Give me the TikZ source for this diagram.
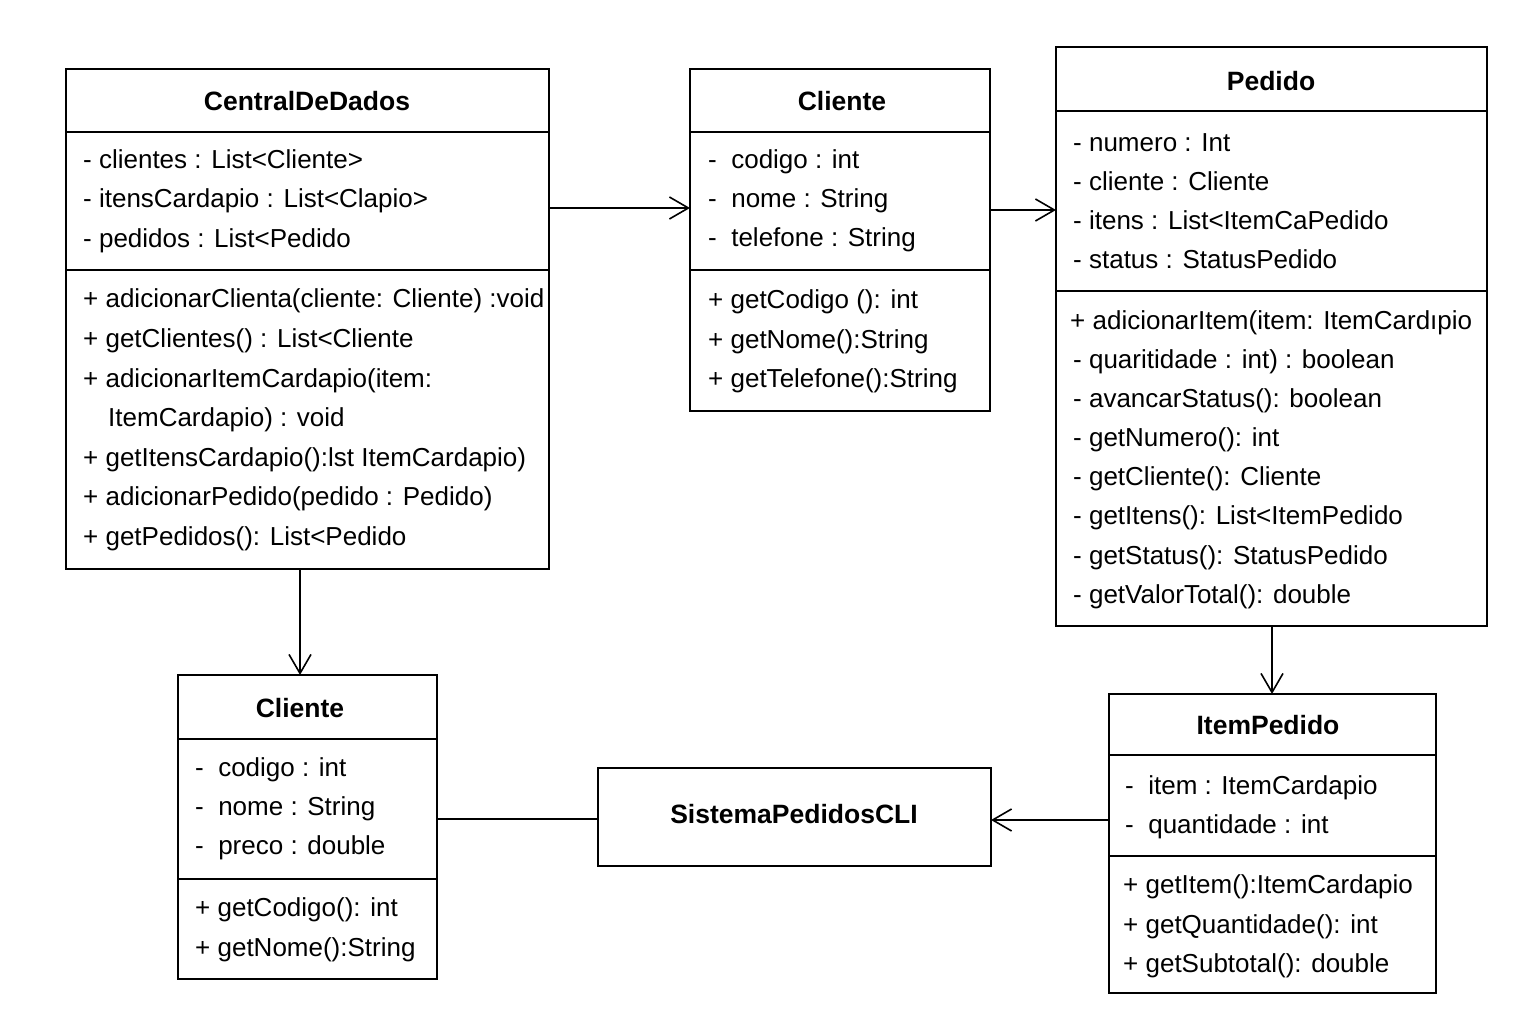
\documentclass[tikz,border=0pt]{standalone}
\usepackage{fontspec}
\setmainfont{Liberation Sans}
\usetikzlibrary{arrows.meta}
\tikzset{
  classbox/.style={draw, line width=1.6pt, rectangle, inner sep=0pt, outer sep=0pt, anchor=north west},
  ctitle/.style={font=\bfseries\fontsize{26.5}{30}\selectfont, inner sep=0pt},
  txt/.style={font=\fontsize{26}{30}\selectfont, anchor=west, inner sep=0pt, text height=0.75em, text depth=0.25em, yshift=-6pt},
  sepline/.style={line width=1.6pt},
  conn/.style={line width=1.6pt},
  arr/.style={conn, -{Straight Barb[length=19pt,width=22pt,line width=1.6pt]}}
}
\begin{document}
\begin{tikzpicture}[x=1pt,y=-1pt]
\useasboundingbox[fill=white] (0,0) rectangle (1536,1024);

% ---------- CentralDeDados ----------
\node[classbox, minimum width=483pt, minimum height=500pt] (cdd) at (66,69) {};
\node[ctitle] (cddt) at (307,101) {CentralDeDados};
\draw[sepline] (66,132) -- (549,132);
\draw[sepline] (66,270) -- (549,270);
\node[txt] (cdda1) at (83,160) {- clientes : List<Cliente>};
\node[txt] (cdda2) at (83,199) {- itensCardapio : List<Clapio>};
\node[txt] (cdda3) at (83,239) {- pedidos : List<Pedido};
\node[txt] (cddm1) at (83,299) {+ adicionarClienta(cliente: Cliente) :void};
\node[txt] (cddm2) at (83,339) {+ getClientes() : List<Cliente};
\node[txt] (cddm3) at (83,379) {+ adicionarItemCardapio(item:};
\node[txt] (cddm4) at (108,418) {ItemCardapio) : void};
\node[txt] (cddm5) at (83,458) {+ getItensCardapio():lst ItemCardapio)};
\node[txt] (cddm6) at (83,497) {+ adicionarPedido(pedido : Pedido)};
\node[txt] (cddm7) at (83,537) {+ getPedidos(): List<Pedido};

% ---------- Cliente (top) ----------
\node[classbox, minimum width=300pt, minimum height=342pt] (cli1) at (690,69) {};
\node[ctitle] (cli1t) at (842,101) {Cliente};
\draw[sepline] (690,132) -- (990,132);
\draw[sepline] (690,270) -- (990,270);
\node[txt] (cli1a1) at (708,160) {-~~codigo : int};
\node[txt] (cli1a2) at (708,199) {-~~nome : String};
\node[txt] (cli1a3) at (708,238) {-~~telefone : String};
\node[txt] (cli1m1) at (708,300) {+ getCodigo (): int};
\node[txt] (cli1m2) at (708,340) {+ getNome():String};
\node[txt] (cli1m3) at (708,379) {+ getTelefone():String};

% ---------- Pedido ----------
\node[classbox, minimum width=431pt, minimum height=579pt] (ped) at (1056,47) {};
\node[ctitle] (pedt) at (1271,81) {Pedido};
\draw[sepline] (1056,111) -- (1487,111);
\draw[sepline] (1056,291) -- (1487,291);
\node[txt] (peda1) at (1073,143) {- numero : Int};
\node[txt] (peda2) at (1073,182) {- cliente : Cliente};
\node[txt] (peda3) at (1073,221) {- itens : List<ItemCaPedido};
\node[txt] (peda4) at (1073,260) {- status : StatusPedido};
\node[txt] (pedm1) at (1070,321) {+ adicionarItem(item: ItemCardıpio};
\node[txt] (pedm2) at (1073,360) {- quaritidade : int) : boolean};
\node[txt] (pedm3) at (1073,399) {- avancarStatus(): boolean};
\node[txt] (pedm4) at (1073,438) {- getNumero(): int};
\node[txt] (pedm5) at (1073,477) {- getCliente(): Cliente};
\node[txt] (pedm6) at (1073,516) {- getItens(): List<ItemPedido};
\node[txt] (pedm7) at (1073,556) {- getStatus(): StatusPedido};
\node[txt] (pedm8) at (1073,595) {- getValorTotal(): double};

% ---------- Cliente (bottom) ----------
\node[classbox, minimum width=259pt, minimum height=304pt] (cli2) at (178,675) {};
\node[ctitle] (cli2t) at (300,708) {Cliente};
\draw[sepline] (178,739) -- (437,739);
\draw[sepline] (178,879) -- (437,879);
\node[txt] (cli2a1) at (195,768) {-~~codigo : int};
\node[txt] (cli2a2) at (195,807) {-~~nome : String};
\node[txt] (cli2a3) at (195,846) {-~~preco : double};
\node[txt] (cli2m1) at (195,908) {+ getCodigo(): int};
\node[txt] (cli2m2) at (195,948) {+ getNome():String};

% ---------- SistemaPedidosCLI ----------
\node[classbox, minimum width=393pt, minimum height=98pt] (spc) at (598,768) {};
\node[ctitle] (spct) at (794,814) {SistemaPedidosCLI};

% ---------- ItemPedido ----------
\node[classbox, minimum width=327pt, minimum height=299pt] (itp) at (1109,694) {};
\node[ctitle] (itpt) at (1268,725) {ItemPedido};
\draw[sepline] (1109,755) -- (1436,755);
\draw[sepline] (1109,856) -- (1436,856);
\node[txt] (itpa1) at (1125,786) {-~~item : ItemCardapio};
\node[txt] (itpa2) at (1125,825) {-~~quantidade : int};
\node[txt] (itpm1) at (1123,885) {+ getItem():ItemCardapio};
\node[txt] (itpm2) at (1123,925) {+ getQuantidade(): int};
\node[txt] (itpm3) at (1123,964) {+ getSubtotal(): double};

% ---------- connectors ----------
\draw[arr] (cdd.east |- 0,208) -- (cli1.west |- 0,208);
\draw[arr] (cli1.east |- 0,210) -- (ped.west |- 0,210);
\draw[arr] (cdd.south -| 300,0) -- (cli2.north -| 300,0);
\draw[arr] (ped.south -| 1272,0) -- (itp.north -| 1272,0);
\draw[arr] (itp.west |- 0,820) -- (spc.east |- 0,820);
\draw[conn] (cli2.east |- 0,819) -- (spc.west |- 0,819);
\end{tikzpicture}
\end{document}
